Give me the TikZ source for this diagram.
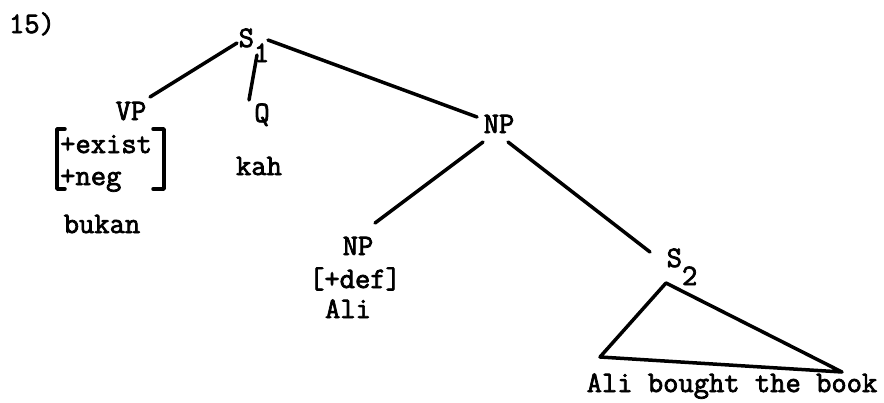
\documentclass[tikz,border=0pt]{standalone}
\usepackage{fontspec}
\newfontfamily\twfont{Latin Modern Mono}[FakeBold=2.5]
\tikzset{
  lab/.style={anchor=base, inner sep=0pt, font=\fontsize{29.7}{34}\selectfont\twfont},
  labw/.style={lab, anchor=base west},
  edge/.style={line width=3.5pt, line cap=round, line join=round},
}
\begin{document}
\begin{tikzpicture}[x=1pt,y=-1pt]
\useasboundingbox (0,0) rectangle (884,402);
% labels
\node[lab] (num) at (32,33) {15)};
\node[lab] (s1) at (254,47) {S\raisebox{-15pt}{1}};
\node[lab] (vp) at (131,120) {VP};
\node[labw] (exist) at (60,153) {+exist};
\node[labw] (neg) at (60,185) {+neg};
\node[lab] (bukan) at (102,233) {bukan};
\node[lab] (q) at (262,122) {Q};
\node[lab] (kah) at (259,175) {kah};
\node[lab] (np) at (499,133) {NP};
\node[lab] (np2) at (358,255) {NP};
\node[lab] (def) at (355,288) {[+def]};
\node[lab] (ali) at (348,318) {Ali};
\node[lab] (s2) at (682,267) {S\raisebox{-18pt}{2}};
\node[lab] (book) at (732,392) {Ali bought the book};
% brackets
\draw[edge] (65,129) -- (57,129) -- (57,189) -- (65,189);
\draw[edge] (153,129) -- (164,129) -- (164,189) -- (153,189);
% tree edges
\draw[edge] ([shift={(-17,-4)}]s1.base) -- ([shift={(19,-23)}]vp.base);
\draw[edge] ([shift={(3,8)}]s1.base) -- ([shift={(-13,-22)}]q.base);
\draw[edge] ([shift={(14,-7)}]s1.base) -- ([shift={(-22,-16)}]np.base);
\draw[edge] ([shift={(-16,9)}]np.base) -- ([shift={(17,-32)}]np2.base);
\draw[edge] ([shift={(9,9)}]np.base) -- ([shift={(-32,-15)}]s2.base);
% triangle
\draw[edge] ([shift={(-16,16)}]s2.base) -- ([shift={(-132,-35)}]book.base)
  -- ([shift={(110,-20)}]book.base) -- cycle;
\end{tikzpicture}
\end{document}
